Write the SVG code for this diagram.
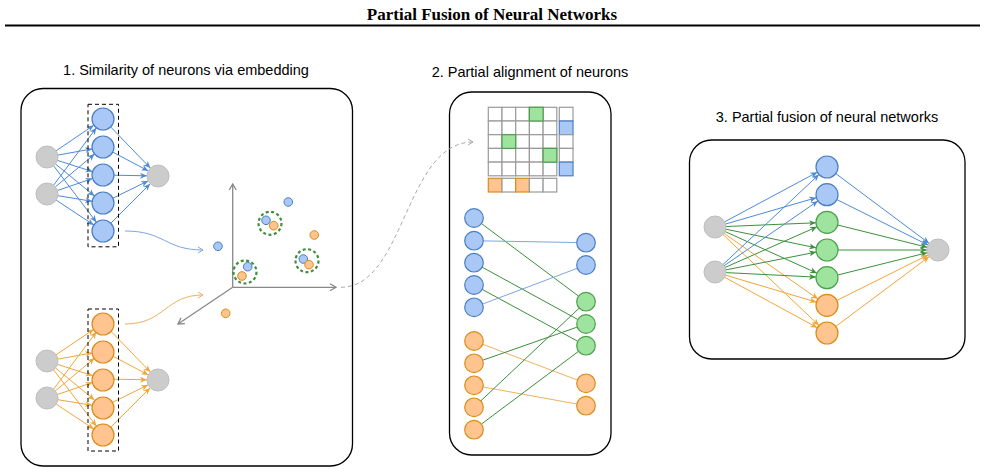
<svg xmlns="http://www.w3.org/2000/svg" width="985" height="474" viewBox="0 0 985 474">
<style>
.panel{fill:#fff;stroke:#000;stroke-width:1.3}
.lbl{font-family:"Liberation Sans",Arial,sans-serif;font-size:14.5px;fill:#000;text-anchor:middle}
.title{font-family:"Liberation Serif","Times New Roman",serif;font-size:17px;font-weight:bold;fill:#000;text-anchor:middle}
.gy{fill:#cccccc;stroke:#bebebe;stroke-width:1}
.bl{fill:#a9c8f5;stroke:#4a7ec4;stroke-width:1.2}
.or{fill:#ffc48f;stroke:#d98c1a;stroke-width:1.2}
.gr{fill:#9ee39e;stroke:#4f9e4f;stroke-width:1.2}
.eb{stroke:#4d8ad8;stroke-width:1;fill:none;marker-end:url(#ab)}
.eo{stroke:#f0a63a;stroke-width:1;fill:none;marker-end:url(#ao)}
.eg{stroke:#3d8f3d;stroke-width:1;fill:none;marker-end:url(#ag)}
.pb{stroke:#7ea6e0;stroke-width:1;fill:none}
.po{stroke:#f0b060;stroke-width:1;fill:none}
.pg{stroke:#3d8f3d;stroke-width:1;fill:none}
.dash{fill:none;stroke:#000;stroke-width:1;stroke-dasharray:4 3}
.cl{fill:none;stroke:#3d8f3d;stroke-width:2.2;stroke-dasharray:3 2.5}
.axis{stroke:#888;stroke-width:1.3;fill:none;marker-end:url(#ax)}
.cell{fill:#fff;stroke:#9a9a9a;stroke-width:1.2}
.pt{stroke-width:1}
</style>
<defs>
<marker id="ab" markerUnits="userSpaceOnUse" markerWidth="8" markerHeight="8" viewBox="0 0 8 8" refX="7" refY="4" orient="auto"><path d="M0,1 L7,4 L0,7 L2,4 Z" fill="#4d8ad8"/></marker>
<marker id="ao" markerUnits="userSpaceOnUse" markerWidth="8" markerHeight="8" viewBox="0 0 8 8" refX="7" refY="4" orient="auto"><path d="M0,1 L7,4 L0,7 L2,4 Z" fill="#f0a63a"/></marker>
<marker id="ag" markerUnits="userSpaceOnUse" markerWidth="8" markerHeight="8" viewBox="0 0 8 8" refX="7" refY="4" orient="auto"><path d="M0,1 L7,4 L0,7 L2,4 Z" fill="#3d8f3d"/></marker>
<marker id="ax" markerUnits="userSpaceOnUse" markerWidth="10" markerHeight="10" viewBox="0 0 10 10" refX="8" refY="5" orient="auto"><path d="M2,1.5 L8,5 L2,8.5" fill="none" stroke="#888" stroke-width="1.3"/></marker>
<marker id="acb" markerUnits="userSpaceOnUse" markerWidth="10" markerHeight="10" viewBox="0 0 10 10" refX="8" refY="5" orient="auto"><path d="M3,2 L8,5 L3,8" fill="none" stroke="#7ea6e0" stroke-width="1"/></marker>
<marker id="aco" markerUnits="userSpaceOnUse" markerWidth="10" markerHeight="10" viewBox="0 0 10 10" refX="8" refY="5" orient="auto"><path d="M3,2 L8,5 L3,8" fill="none" stroke="#f0b060" stroke-width="1"/></marker>
<marker id="acg" markerUnits="userSpaceOnUse" markerWidth="10" markerHeight="10" viewBox="0 0 10 10" refX="8" refY="5" orient="auto"><path d="M3,2 L8,5 L3,8" fill="none" stroke="#aaa" stroke-width="1"/></marker>
</defs>
<rect width="985" height="474" fill="#fff"/>
<text class="title" x="492" y="20">Partial Fusion of Neural Networks</text>
<line x1="5" y1="25.5" x2="980" y2="25.5" stroke="#000" stroke-width="1.8"/>
<text class="lbl" x="186" y="75">1. Similarity of neurons via embedding</text>
<text class="lbl" x="530" y="77">2. Partial alignment of neurons</text>
<text class="lbl" x="827" y="122">3. Partial fusion of neural networks</text>

<g id="panel1"><rect class="panel" x="21" y="88.5" width="331.5" height="377.5" rx="22"/></g>
<g id="panel2"><rect class="panel" x="449.5" y="92" width="161.5" height="363" rx="22"/></g>
<g id="panel3"><rect class="panel" x="689.5" y="140" width="275.5" height="219" rx="22"/></g>

<g id="connectors">
 <g id="net1-edges">
  <path class="eb" d="M56.1,150.8L93.9,125.2"/><path class="eb" d="M57.8,155.1L92.2,148.9"/><path class="eb" d="M57.5,160.4L92.5,171.6"/><path class="eb" d="M55.5,164L94.5,196"/><path class="eb" d="M53.6,165.8L96.4,222.2"/>
  <path class="eb" d="M53.6,185.2L96.4,127.8"/><path class="eb" d="M55.4,186.9L94.6,154.1"/><path class="eb" d="M57.4,190.5L92.6,178.5"/><path class="eb" d="M57.9,195.7L92.1,201.3"/><path class="eb" d="M56.2,200.1L93.8,225"/>
  <path class="eb" d="M110.6,126.9L150.4,168.1"/><path class="eb" d="M112.7,152.1L148.3,170.9"/><path class="eb" d="M114,175.2L147,175.8"/><path class="eb" d="M112.9,198.2L148.1,180.9"/><path class="eb" d="M110.8,223.2L150.2,183.8"/>
 </g>
 <g id="net2-edges" transform="translate(0,204)">
  <path class="eo" d="M56.1,150.8L93.9,125.2"/><path class="eo" d="M57.8,155.1L92.2,148.9"/><path class="eo" d="M57.5,160.4L92.5,171.6"/><path class="eo" d="M55.5,164L94.5,196"/><path class="eo" d="M53.6,165.8L96.4,222.2"/>
  <path class="eo" d="M53.6,185.2L96.4,127.8"/><path class="eo" d="M55.4,186.9L94.6,154.1"/><path class="eo" d="M57.4,190.5L92.6,178.5"/><path class="eo" d="M57.9,195.7L92.1,201.3"/><path class="eo" d="M56.2,200.1L93.8,225"/>
  <path class="eo" d="M110.6,126.9L150.4,168.1"/><path class="eo" d="M112.7,152.1L148.3,170.9"/><path class="eo" d="M114,175.2L147,175.8"/><path class="eo" d="M112.9,198.2L148.1,180.9"/><path class="eo" d="M110.8,223.2L150.2,183.8"/>
 </g>
 <path d="M125,231 C165,231 165,250 203,250" class="pb" marker-end="url(#acb)"/>
 <path d="M125,324 C165,324 165,295 203,295" class="po" marker-end="url(#aco)"/>
 <g id="axes">
  <path class="axis" d="M232.7,287.3L232.7,184"/>
  <path class="axis" d="M232.7,287.3L336,287.3"/>
  <path class="axis" d="M232.7,287.3L178,324"/>
 </g>
 <path d="M341,287.3 C405,287.3 405,142 473,142" fill="none" stroke="#aaa" stroke-width="1" stroke-dasharray="4 3" marker-end="url(#acg)"/>
 <g id="align-edges">
  <path class="pg" d="M481.5,223.6L578.5,296.1"/>
  <path class="pb" d="M483.3,240.9L576.7,242.5"/>
  <path class="pg" d="M482.2,267.2L577.8,319.5"/>
  <path class="pg" d="M482.2,289.4L577.8,341.3"/>
  <path class="pb" d="M482.7,304L577.3,268.3"/>
  <path class="po" d="M482.7,344.3L577.3,380"/>
  <path class="pg" d="M482.8,360.2L577.2,327.1"/>
  <path class="po" d="M483.2,387L576.8,404"/>
  <path class="pg" d="M480.8,400.9L579.2,308.1"/>
  <path class="pg" d="M481.4,424.1L578.6,351.3"/>
 </g>
 <g id="fused-edges">
  <path class="eb" d="M724.7,221.8L817.3,172.2"/><path class="eb" d="M725.6,224L816.4,197.7"/>
  <path class="eg" d="M726,226.5L816,222.8"/><path class="eg" d="M725.8,229.2L816.2,247.8"/><path class="eg" d="M725,231.5L817,273.2"/>
  <path class="eo" d="M724,233.3L818,299"/><path class="eo" d="M723,234.6L819,325.4"/>
  <path class="eb" d="M723,264.5L819,174.5"/><path class="eb" d="M724,265.8L818,200.9"/>
  <path class="eg" d="M725,267.5L817,226.8"/><path class="eg" d="M725.8,269.9L816.2,252.1"/><path class="eg" d="M726,272.6L816,277.1"/>
  <path class="eo" d="M725.5,275.1L816.5,302.2"/><path class="eo" d="M724.7,277.3L817.3,327.7"/>
  <path class="eb" d="M835.8,173.6L929.2,243.4"/><path class="eb" d="M836.9,199.6L928.2,245.1"/>
  <path class="eg" d="M837.7,225L927.3,247.3"/><path class="eg" d="M838,250L927,250"/><path class="eg" d="M837.7,275L927.3,252.7"/>
  <path class="eo" d="M836.9,300.4L928.2,254.9"/><path class="eo" d="M835.8,326.4L929.2,256.6"/>
 </g>
</g>

<g id="net1">
 <rect class="dash" x="88" y="104.3" width="30.5" height="142.5"/>
 <g id="n1-in1"><circle class="gy" cx="47" cy="157" r="11"/></g>
 <g id="n1-in2"><circle class="gy" cx="47" cy="194" r="11"/></g>
 <g id="n1-h1"><circle class="bl" cx="103" cy="119" r="11"/></g>
 <g id="n1-h2"><circle class="bl" cx="103" cy="147" r="11"/></g>
 <g id="n1-h3"><circle class="bl" cx="103" cy="175" r="11"/></g>
 <g id="n1-h4"><circle class="bl" cx="103" cy="203" r="11"/></g>
 <g id="n1-h5"><circle class="bl" cx="103" cy="231" r="11"/></g>
 <g id="n1-out"><circle class="gy" cx="158" cy="176" r="11"/></g>
</g>
<g id="net2" transform="translate(0,204)">
 <rect class="dash" x="88" y="105" width="30.5" height="142"/>
 <g id="n2-in1"><circle class="gy" cx="47" cy="157" r="11"/></g>
 <g id="n2-in2"><circle class="gy" cx="47" cy="194" r="11"/></g>
 <g id="n2-h1"><circle class="or" cx="103" cy="120" r="11"/></g>
 <g id="n2-h2"><circle class="or" cx="103" cy="148" r="11"/></g>
 <g id="n2-h3"><circle class="or" cx="103" cy="176" r="11"/></g>
 <g id="n2-h4"><circle class="or" cx="103" cy="204" r="11"/></g>
 <g id="n2-h5"><circle class="or" cx="103" cy="231" r="11"/></g>
 <g id="n2-out"><circle class="gy" cx="158" cy="176" r="11"/></g>
</g>

<g id="embedding">
 <circle class="bl pt" cx="288.3" cy="202" r="4.3"/>
 <circle class="bl pt" cx="218" cy="246.3" r="4.3"/>
 <circle class="or pt" cx="314.3" cy="235" r="4.3"/>
 <circle class="or pt" cx="225.7" cy="313.3" r="4.3"/>
 <g id="cluster1"><circle class="cl" cx="270" cy="223.3" r="11.5"/><circle class="bl pt" cx="266" cy="220.3" r="4.3"/><circle class="or pt" cx="273.7" cy="225.7" r="4.3"/></g>
 <g id="cluster2"><circle class="cl" cx="307" cy="260.7" r="11.5"/><circle class="bl pt" cx="303.3" cy="259" r="4.3"/><circle class="or pt" cx="309" cy="264.7" r="4.3"/></g>
 <g id="cluster3"><circle class="cl" cx="245" cy="272" r="11.5"/><circle class="bl pt" cx="247.7" cy="266.7" r="4.3"/><circle class="or pt" cx="242" cy="276" r="4.3"/></g>
</g>

<g id="matrix">
 <g id="grid">
  <rect class="cell" x="488.3" y="107.3" width="13.7" height="13.7"/><rect class="cell" x="502" y="107.3" width="13.7" height="13.7"/><rect class="cell" x="515.7" y="107.3" width="13.7" height="13.7"/><rect class="cell" x="529.4" y="107.3" width="13.7" height="13.7"/><rect class="cell" x="543.1" y="107.3" width="13.7" height="13.7"/>
  <rect class="cell" x="488.3" y="121" width="13.7" height="13.7"/><rect class="cell" x="502" y="121" width="13.7" height="13.7"/><rect class="cell" x="515.7" y="121" width="13.7" height="13.7"/><rect class="cell" x="529.4" y="121" width="13.7" height="13.7"/><rect class="cell" x="543.1" y="121" width="13.7" height="13.7"/>
  <rect class="cell" x="488.3" y="134.7" width="13.7" height="13.7"/><rect class="cell" x="502" y="134.7" width="13.7" height="13.7"/><rect class="cell" x="515.7" y="134.7" width="13.7" height="13.7"/><rect class="cell" x="529.4" y="134.7" width="13.7" height="13.7"/><rect class="cell" x="543.1" y="134.7" width="13.7" height="13.7"/>
  <rect class="cell" x="488.3" y="148.4" width="13.7" height="13.7"/><rect class="cell" x="502" y="148.4" width="13.7" height="13.7"/><rect class="cell" x="515.7" y="148.4" width="13.7" height="13.7"/><rect class="cell" x="529.4" y="148.4" width="13.7" height="13.7"/><rect class="cell" x="543.1" y="148.4" width="13.7" height="13.7"/>
  <rect class="cell" x="488.3" y="162.1" width="13.7" height="13.7"/><rect class="cell" x="502" y="162.1" width="13.7" height="13.7"/><rect class="cell" x="515.7" y="162.1" width="13.7" height="13.7"/><rect class="cell" x="529.4" y="162.1" width="13.7" height="13.7"/><rect class="cell" x="543.1" y="162.1" width="13.7" height="13.7"/>
  <rect class="gr" x="529.4" y="107.3" width="13.7" height="13.7"/>
  <rect class="gr" x="502" y="134.7" width="13.7" height="13.7"/>
  <rect class="gr" x="543.1" y="148.4" width="13.7" height="13.7"/>
 </g>
 <g id="rightcol">
  <rect class="cell" x="559.3" y="107.3" width="13.7" height="13.7"/><rect class="bl" x="559.3" y="121" width="13.7" height="13.7"/><rect class="cell" x="559.3" y="134.7" width="13.7" height="13.7"/><rect class="cell" x="559.3" y="148.4" width="13.7" height="13.7"/><rect class="bl" x="559.3" y="162.1" width="13.7" height="13.7"/>
 </g>
 <g id="bottomrow">
  <rect class="or" x="488.3" y="178.3" width="13.7" height="13.7"/><rect class="cell" x="502" y="178.3" width="13.7" height="13.7"/><rect class="or" x="515.7" y="178.3" width="13.7" height="13.7"/><rect class="cell" x="529.4" y="178.3" width="13.7" height="13.7"/><rect class="cell" x="543.1" y="178.3" width="13.7" height="13.7"/>
 </g>
</g>

<g id="align-nodes">
 <g id="a-l1"><circle class="bl" cx="474" cy="218" r="9.3"/></g>
 <g id="a-l2"><circle class="bl" cx="474" cy="240.7" r="9.3"/></g>
 <g id="a-l3"><circle class="bl" cx="474" cy="262.7" r="9.3"/></g>
 <g id="a-l4"><circle class="bl" cx="474" cy="285" r="9.3"/></g>
 <g id="a-l5"><circle class="bl" cx="474" cy="307.3" r="9.3"/></g>
 <g id="a-l6"><circle class="or" cx="474" cy="341" r="9.3"/></g>
 <g id="a-l7"><circle class="or" cx="474" cy="363.3" r="9.3"/></g>
 <g id="a-l8"><circle class="or" cx="474" cy="385.3" r="9.3"/></g>
 <g id="a-l9"><circle class="or" cx="474" cy="407.3" r="9.3"/></g>
 <g id="a-l10"><circle class="or" cx="474" cy="429.7" r="9.3"/></g>
 <g id="a-r1"><circle class="bl" cx="586" cy="242.7" r="9.3"/></g>
 <g id="a-r2"><circle class="bl" cx="586" cy="265" r="9.3"/></g>
 <g id="a-r3"><circle class="gr" cx="586" cy="301.7" r="9.3"/></g>
 <g id="a-r4"><circle class="gr" cx="586" cy="324" r="9.3"/></g>
 <g id="a-r5"><circle class="gr" cx="586" cy="345.7" r="9.3"/></g>
 <g id="a-r6"><circle class="or" cx="586" cy="383.3" r="9.3"/></g>
 <g id="a-r7"><circle class="or" cx="586" cy="405.7" r="9.3"/></g>
</g>

<g id="fused">
 <g id="f-in1"><circle class="gy" cx="715" cy="227" r="11"/></g>
 <g id="f-in2"><circle class="gy" cx="715" cy="272" r="11"/></g>
 <g id="f-h1"><circle class="bl" cx="827" cy="167" r="11"/></g>
 <g id="f-h2"><circle class="bl" cx="827" cy="194.7" r="11"/></g>
 <g id="f-h3"><circle class="gr" cx="827" cy="222.3" r="11"/></g>
 <g id="f-h4"><circle class="gr" cx="827" cy="250" r="11"/></g>
 <g id="f-h5"><circle class="gr" cx="827" cy="277.7" r="11"/></g>
 <g id="f-h6"><circle class="or" cx="827" cy="305.3" r="11"/></g>
 <g id="f-h7"><circle class="or" cx="827" cy="333" r="11"/></g>
 <g id="f-out"><circle class="gy" cx="938" cy="250" r="11"/></g>
</g>
</svg>
